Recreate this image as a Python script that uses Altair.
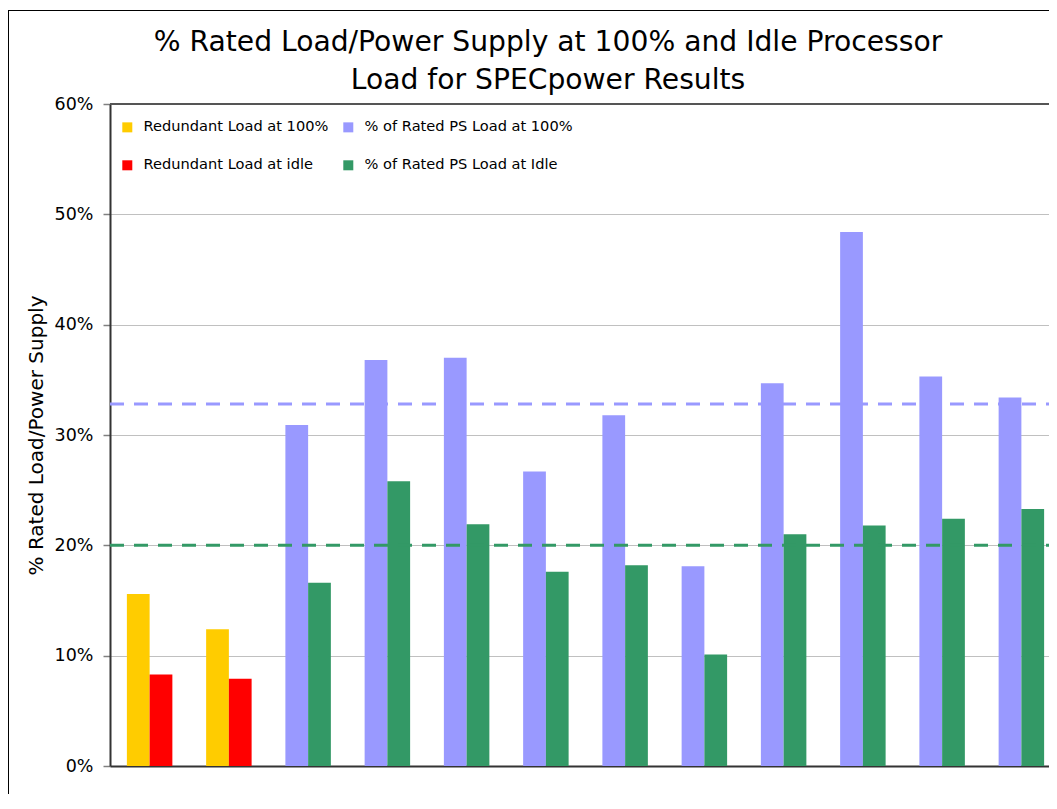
import altair as alt
import pandas as pd

# ---- data ----
results = [f"Result {i}" for i in range(1, 13)]
series_names = [
    "Redundant Load at 100%",
    "Redundant Load at idle",
    "% of Rated PS Load at 100%",
    "% of Rated PS Load at Idle",
]
series_colors = ["#FFCC00", "#FF0000", "#9999FF", "#339966"]

load_100 = [0.156, 0.124, 0.309, 0.368, 0.370, 0.267, 0.318, 0.181, 0.347, 0.484, 0.353, 0.334]
load_idle = [0.083, 0.079, 0.166, 0.258, 0.219, 0.176, 0.182, 0.101, 0.210, 0.218, 0.224, 0.233]
redundant = [True, True, False, False, False, False, False, False, False, False, False, False]

avg_100 = 0.328
avg_idle = 0.200

title_lines = ["% Rated Load/Power Supply at 100% and Idle Processor", "Load for SPECpower Results"]
y_title = "% Rated Load/Power Supply"
y_ticks = [0, 0.1, 0.2, 0.3, 0.4, 0.5, 0.6]

FONT = "DejaVu Sans"

rows = []
for r, a, b, red in zip(results, load_100, load_idle, redundant):
    rows.append({"result": r, "slot": "a", "value": a,
                 "series": series_names[0] if red else series_names[2]})
    rows.append({"result": r, "slot": "b", "value": b,
                 "series": series_names[1] if red else series_names[3]})
df = pd.DataFrame(rows)

W = 939
H = 662
XR = 951

bars = alt.Chart(df).mark_bar().encode(
    x=alt.X("result:N", sort=results,
            scale=alt.Scale(range=[0, XR], paddingInner=0.426, paddingOuter=0.213),
            axis=alt.Axis(labels=False, ticks=False, title=None, grid=False,
                          domainColor="#333333", domainWidth=2)),
    xOffset=alt.XOffset("slot:N", scale=alt.Scale(paddingInner=0, paddingOuter=0)),
    y=alt.Y("value:Q",
            scale=alt.Scale(domain=[0, 0.6], nice=False),
            axis=alt.Axis(values=y_ticks, format=".0%", title=y_title,
                          labelFont=FONT, labelFontSize=17.5, labelColor="black",
                          labelPadding=10, tickSize=7, tickColor="#808080", tickWidth=1.5,
                          domainColor="#333333", domainWidth=2,
                          gridColor="#C0C0C0", gridWidth=1,
                          titleFont=FONT, titleFontSize=20, titleFontWeight="normal",
                          titleColor="black", titlePadding=8)),
    color=alt.Color("series:N",
                    scale=alt.Scale(domain=series_names, range=series_colors),
                    legend=alt.Legend(title=None, orient="none", legendX=10, legendY=16,
                                      columns=2, symbolType="square", symbolSize=100,
                                      symbolStrokeWidth=0, labelFont=FONT,
                                      labelFontSize=14.6, labelColor="black",
                                      labelLimit=0, labelOffset=9, columnPadding=12,
                                      rowPadding=23, padding=0)),
)

avg_df = pd.DataFrame({"v": [avg_100, avg_idle], "c": ["#9999FF", "#339966"]})
avg_lines = alt.Chart(avg_df).mark_rule(strokeWidth=3, strokeDash=[14, 10]).encode(
    y="v:Q",
    x=alt.value(0),
    x2=alt.value(XR),
    color=alt.Color("c:N", scale=None, legend=None),
)

top_df = pd.DataFrame({"v": [0.6]})
top_line = alt.Chart(top_df).mark_rule(strokeWidth=2, color="#555555").encode(
    y="v:Q", x=alt.value(0), x2=alt.value(XR)
)

one = pd.DataFrame({"k": [0]})
border_left = alt.Chart(one).mark_rule(color="black", strokeWidth=1).encode(
    x=alt.value(-101.5), y=alt.value(-94), y2=alt.value(H + 200)
)
border_top = alt.Chart(one).mark_rule(color="black", strokeWidth=1).encode(
    y=alt.value(-93.5), x=alt.value(-102), x2=alt.value(XR + 50)
)

title = alt.Chart(one).mark_text(
    text=title_lines, font=FONT, fontSize=28.2, color="black",
    align="center", baseline="alphabetic", lineHeight=38
).encode(x=alt.value(438), y=alt.value(-53))

chart = alt.layer(bars, avg_lines, top_line, border_left, border_top, title).properties(
    width=W, height=H,
    autosize=alt.AutoSizeParams(type="none"),
    padding={"left": 102, "top": 96, "right": 0, "bottom": 28},
).configure_view(strokeWidth=0).configure(font=FONT)

chart.save("out.html", embed_options={"renderer": "svg", "actions": False})
